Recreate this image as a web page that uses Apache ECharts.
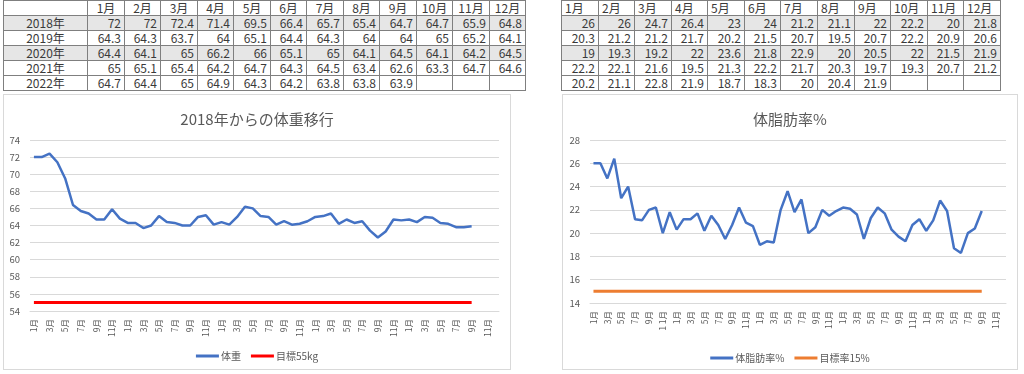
<!DOCTYPE html>
<html>
<head>
<meta charset="utf-8">
<script src="https://cdn.jsdelivr.net/npm/echarts@6/dist/echarts.min.js"></script>
<style>
html,body{margin:0;padding:0;background:#fff;width:1024px;height:374px;overflow:hidden;font-family:"Noto Sans CJK JP","Noto Sans",sans-serif;}
.cell{position:absolute;box-sizing:border-box;border:1px solid #7f7f7f;font-size:12px;line-height:13px;color:#3a3a3a;white-space:nowrap;overflow:hidden;padding:0 3px;}
.box{position:absolute;box-sizing:border-box;border:1px solid #d9d9d9;pointer-events:none;}
.chart{position:absolute;}
</style>
</head>
<body>
<div id="tables"></div>
<div id="c1" class="chart" style="left:3px;top:94px;width:508px;height:276px;"></div>
<div class="box" style="left:3px;top:94px;width:508px;height:276px;"></div>
<div id="c2" class="chart" style="left:562px;top:94px;width:456px;height:276px;"></div>
<div class="box" style="left:562px;top:94px;width:456px;height:276px;"></div>
<script>
// ---- data ----
const months = ['1月','2月','3月','4月','5月','6月','7月','8月','9月','10月','11月','12月'];
const years = ['2018年','2019年','2020年','2021年','2022年'];

const weight2018 = [72, 72, 72.4, 71.4, 69.5, 66.4, 65.7, 65.4, 64.7, 64.7, 65.9, 64.8];
const weight2019 = [64.3, 64.3, 63.7, 64, 65.1, 64.4, 64.3, 64, 64, 65, 65.2, 64.1];
const weight2020 = [64.4, 64.1, 65, 66.2, 66, 65.1, 65, 64.1, 64.5, 64.1, 64.2, 64.5];
const weight2021 = [65, 65.1, 65.4, 64.2, 64.7, 64.3, 64.5, 63.4, 62.6, 63.3, 64.7, 64.6];
const weight2022 = [64.7, 64.4, 65, 64.9, 64.3, 64.2, 63.8, 63.8, 63.9];

const fat2018 = [26, 26, 24.7, 26.4, 23, 24, 21.2, 21.1, 22, 22.2, 20, 21.8];
const fat2019 = [20.3, 21.2, 21.2, 21.7, 20.2, 21.5, 20.7, 19.5, 20.7, 22.2, 20.9, 20.6];
const fat2020 = [19, 19.3, 19.2, 22, 23.6, 21.8, 22.9, 20, 20.5, 22, 21.5, 21.9];
const fat2021 = [22.2, 22.1, 21.6, 19.5, 21.3, 22.2, 21.7, 20.3, 19.7, 19.3, 20.7, 21.2];
const fat2022 = [20.2, 21.1, 22.8, 21.9, 18.7, 18.3, 20, 20.4, 21.9];

const weightGoal = [55,55,55,55,55,55,55,55,55,55,55,55, 55,55,55,55,55,55,55,55,55,55,55,55,
                    55,55,55,55,55,55,55,55,55,55,55,55, 55,55,55,55,55,55,55,55,55,55,55,55,
                    55,55,55,55,55,55,55,55,55];
const fatGoal = [15,15,15,15,15,15,15,15,15,15,15,15, 15,15,15,15,15,15,15,15,15,15,15,15,
                 15,15,15,15,15,15,15,15,15,15,15,15, 15,15,15,15,15,15,15,15,15,15,15,15,
                 15,15,15,15,15,15,15,15,15];

const weightTicks = [54, 74, 2];
const fatTicks = [14, 28, 2];

// ---- derived ----
const weightRows = [weight2018, weight2019, weight2020, weight2021, weight2022];
const fatRows = [fat2018, fat2019, fat2020, fat2021, fat2022];
const categories = years.flatMap(() => months);
const weightSeries = [].concat(...weightRows);
const fatSeries = [].concat(...fatRows);

// ---- tables ----
const host = document.getElementById('tables');
function cell(x1, y1, x2, y2, text, align, bg) {
  const d = document.createElement('div');
  d.className = 'cell';
  d.style.left = x1 + 'px';
  d.style.top = y1 + 'px';
  d.style.width = (x2 - x1 + 1) + 'px';
  d.style.height = (y2 - y1 + 1) + 'px';
  d.style.textAlign = align;
  if (bg) d.style.background = bg;
  d.textContent = text;
  host.appendChild(d);
}
const rowY = [0, 15, 30, 45, 60, 75, 90];
const shade = '#e6e6e6';
// left table
(function(){
  const xs = [3, 87];
  for (let k = 1; k <= 12; k++) xs.push(Math.round(87 + 36.5 * k));
  cell(xs[0], rowY[0], xs[1], rowY[1], '', 'center');
  months.forEach((m, i) => cell(xs[i+1], rowY[0], xs[i+2], rowY[1], m, 'center'));
  weightRows.forEach((row, r) => {
    const bg = (r % 2 === 0 && r < 4) ? shade : null;
    cell(xs[0], rowY[r+1], xs[1], rowY[r+2], years[r], 'center', bg);
    months.forEach((m, i) => cell(xs[i+1], rowY[r+1], xs[i+2], rowY[r+2], row[i] === undefined ? '' : String(row[i]), 'right', bg));
  });
})();
// right table
(function(){
  const xs = [];
  for (let k = 0; k <= 12; k++) xs.push(Math.round(561 + 36.58 * k));
  months.forEach((m, i) => cell(xs[i], rowY[0], xs[i+1], rowY[1], m, 'left'));
  fatRows.forEach((row, r) => {
    const bg = (r % 2 === 0 && r < 4) ? shade : null;
    months.forEach((m, i) => cell(xs[i], rowY[r+1], xs[i+1], rowY[r+2], row[i] === undefined ? '' : String(row[i]), 'right', bg));
  });
})();

// ---- charts ----
const FONT = '"Noto Sans CJK JP","Noto Sans",sans-serif';
const GRAY = '#595959';
function makeOption(cfg) {
  return {
    animation: false,
    textStyle: { fontFamily: FONT },
    title: {
      text: cfg.title, left: 'center', top: 13,
      textStyle: { fontSize: 15, fontWeight: 'normal', color: GRAY, fontFamily: FONT }
    },
    legend: {
      top: cfg.legendTop, left: 'center', icon: 'rect', itemWidth: 23, itemHeight: 3, itemGap: 10,
      textStyle: { fontSize: 10, color: GRAY, fontFamily: FONT, padding: [0, 0, 0, -3] },
      data: [cfg.s1, cfg.s2]
    },
    grid: cfg.grid,
    xAxis: {
      type: 'category', data: categories, boundaryGap: true,
      axisLine: { lineStyle: { color: '#d9d9d9' } },
      axisTick: { show: false },
      axisLabel: { interval: 1, rotate: 90, fontSize: 8.5, color: GRAY, margin: 8, fontFamily: FONT,
                   formatter: cfg.labelFmt }
    },
    yAxis: {
      type: 'value', min: cfg.ticks[0], max: cfg.ticks[1], interval: cfg.ticks[2],
      axisLine: { show: false }, axisTick: { show: false },
      axisLabel: { fontSize: 9.5, color: GRAY, margin: 10, fontFamily: FONT },
      splitLine: { lineStyle: { color: '#d9d9d9', width: 1 } }
    },
    series: [
      { name: cfg.s1, type: 'line', data: cfg.d1, symbol: 'none',
        lineStyle: { width: 2.5, color: '#4472C4' }, itemStyle: { color: '#4472C4' } },
      { name: cfg.s2, type: 'line', data: cfg.d2, symbol: 'none',
        lineStyle: { width: 3, color: cfg.c2 }, itemStyle: { color: cfg.c2 } }
    ]
  };
}
echarts.init(document.getElementById('c1')).setOption(makeOption({
  title: '2018年からの体重移行', s1: '体重', s2: '目標55kg', d1: weightSeries, d2: weightGoal,
  c2: '#FF0000', ticks: weightTicks, legendTop: 252,
  grid: { left: 27, top: 46, width: 469, height: 171 }
}));
echarts.init(document.getElementById('c2')).setOption(makeOption({
  title: '体脂肪率%', s1: '体脂肪率%', s2: '目標率15%', d1: fatSeries, d2: fatGoal,
  c2: '#ED7D31', ticks: fatTicks, legendTop: 254,
  grid: { left: 28, top: 46, width: 416, height: 163 },
  labelFmt: (v, i) => (i === 10 ? '1 1月' : v)
}));
</script>
</body>
</html>
